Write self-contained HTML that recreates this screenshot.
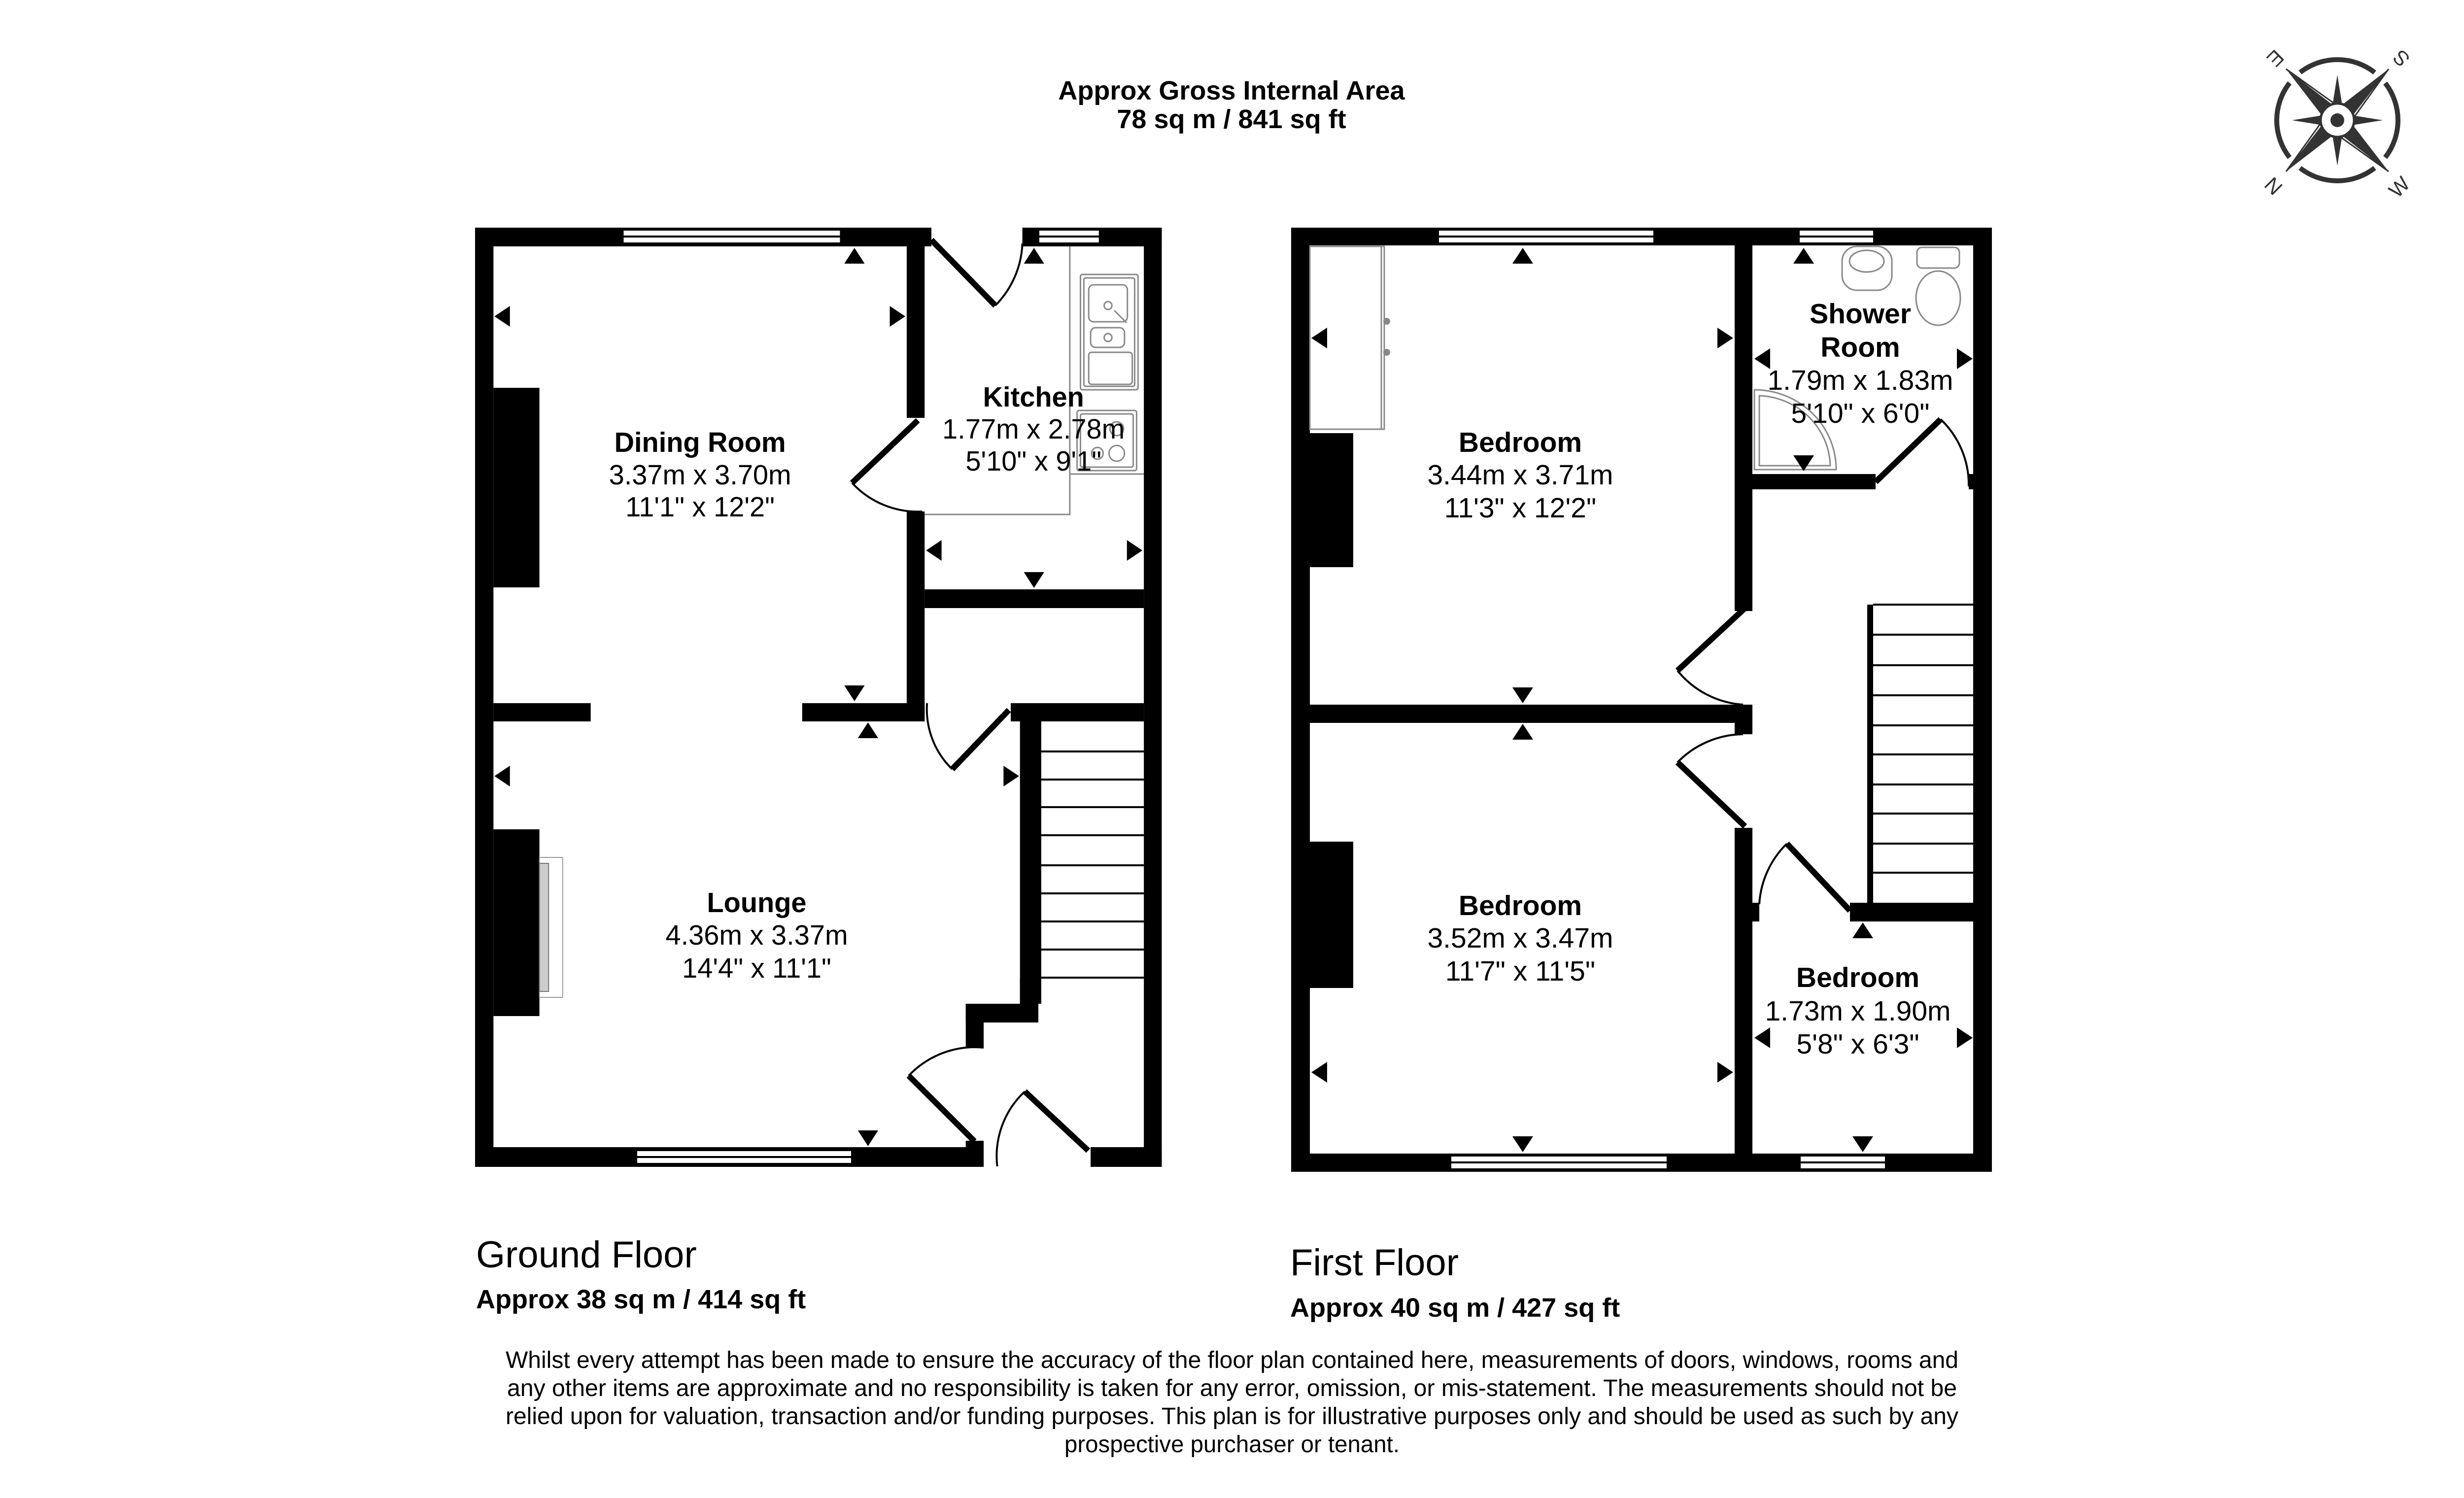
<!DOCTYPE html>
<html><head><meta charset="utf-8"><style>html,body{margin:0;padding:0;background:#fff}svg{display:block}</style></head>
<body>
<svg xmlns="http://www.w3.org/2000/svg" width="5005" height="3040" viewBox="0 0 5005 3040" font-family="Liberation Sans, Arial, sans-serif">
<rect width="5005" height="3040" fill="#fff"/>
<g text-anchor="middle" font-weight="bold" font-size="54" fill="#000">
<text x="2499" y="202">Approx Gross Internal Area</text>
<text x="2499" y="260">78 sq m / 841 sq ft</text>
</g>

<!-- ===== GROUND FLOOR ===== -->
<g transform="translate(964,0) scale(0.982,1) translate(-964,0)">
<g fill="#000">
<rect x="964" y="462" width="38" height="1906"/>
<rect x="964" y="462" width="943" height="38"/>
<rect x="2095" y="462" width="288" height="38"/>
<rect x="2346" y="462" width="37" height="1906"/>
<rect x="1856" y="462" width="37" height="386"/>
<rect x="1856" y="1038" width="37" height="426"/>
<rect x="1893" y="1196" width="453" height="38"/>
<rect x="1002" y="1427" width="201" height="37"/>
<rect x="1640" y="1427" width="253" height="37"/>
<rect x="2071" y="1427" width="275" height="37"/>
<rect x="2090" y="1464" width="44" height="573"/>
<rect x="2090" y="1986" width="38" height="51"/>
<rect x="1978" y="2037" width="150" height="38"/>
<rect x="1978" y="2037" width="37" height="89"/>
<rect x="964" y="2328" width="1051" height="40"/>
<rect x="1978" y="2315" width="37" height="13"/>
<rect x="2236" y="2328" width="147" height="40"/>
<rect x="1002" y="787" width="95" height="405"/>
<rect x="1002" y="1683" width="95" height="379"/>
</g>
<rect x="1097" y="1740" width="48" height="284" fill="#fff" stroke="#999" stroke-width="2"/>
<rect x="1097" y="1752" width="19" height="260" fill="#ccc" stroke="#777" stroke-width="2"/>
<g fill="#fff" stroke="#000" stroke-width="4">
<rect x="1269" y="466" width="451" height="28"/><line x1="1269" y1="480" x2="1720" y2="480"/>
<rect x="2128" y="466" width="127" height="28"/><line x1="2128" y1="480" x2="2255" y2="480"/>
<rect x="1297" y="2334" width="446" height="28"/><line x1="1297" y1="2348" x2="1743" y2="2348"/>
</g>
<g stroke="#000" stroke-width="4" fill="none">
<line x1="2134" y1="1525" x2="2346" y2="1525"/><line x1="2134" y1="1582" x2="2346" y2="1582"/>
<line x1="2134" y1="1638" x2="2346" y2="1638"/><line x1="2134" y1="1695" x2="2346" y2="1695"/>
<line x1="2134" y1="1756" x2="2346" y2="1756"/><line x1="2134" y1="1813" x2="2346" y2="1813"/>
<line x1="2134" y1="1870" x2="2346" y2="1870"/><line x1="2134" y1="1927" x2="2346" y2="1927"/>
<line x1="2134" y1="1984" x2="2346" y2="1984"/>
</g>
<g stroke="#888" stroke-width="3" fill="none">
<polyline points="2193,500 2193,1044 1893,1044"/>
<line x1="2193" y1="962" x2="2346" y2="962"/>
<rect x="2215" y="557" width="119" height="234" rx="4"/>
<rect x="2222" y="564" width="105" height="220" rx="4"/>
<rect x="2232" y="578" width="80" height="75" rx="10"/>
<rect x="2236" y="665" width="70" height="40" rx="10"/>
<circle cx="2272" cy="620" r="8"/><circle cx="2272" cy="685" r="8"/>
<line x1="2285" y1="630" x2="2310" y2="655"/>
<rect x="2232" y="715" width="90" height="65" rx="6"/>
<rect x="2208" y="833" width="123" height="122" rx="4"/>
<rect x="2215" y="840" width="109" height="108" rx="4"/>
<circle cx="2290" cy="870" r="14"/><circle cx="2290" cy="920" r="16"/><circle cx="2250" cy="920" r="12"/>
</g>
<g stroke="#000" fill="none">
<g stroke-width="12">
<line x1="1907" y1="487" x2="2039" y2="620"/>
<line x1="1879" y1="853" x2="1743" y2="980"/>
<line x1="2067" y1="1441" x2="1950" y2="1561"/>
<line x1="1996" y1="2316" x2="1860" y2="2183"/>
<line x1="2231" y1="2335" x2="2100" y2="2215"/>
</g>
<g stroke-width="4">
<path d="M2039,620 A187,187 0 0 0 2095,494"/>
<path d="M1743,980 A186,186 0 0 0 1888,1038"/>
<path d="M1950,1561 A168,168 0 0 1 1898,1427"/>
<path d="M1860,2183 A190,190 0 0 1 2015,2126"/>
<path d="M2100,2215 A178,178 0 0 0 2043,2367"/>
</g>
</g>
<g fill="#000">
<path d="M1748,503 l-21,32 h42z"/><path d="M1004,642 l32,-21 v42z"/><path d="M1853,642 l-32,-21 v42z"/><path d="M1748,1423 l-21,-32 h42z"/>
<path d="M1776,1466 l-21,32 h42z"/><path d="M1004,1575 l32,-21 v42z"/><path d="M2088,1575 l-32,-21 v42z"/><path d="M1776,2326 l-21,-32 h42z"/>
<path d="M2119,503 l-21,32 h42z"/><path d="M1896,1117 l32,-21 v42z"/><path d="M2343,1117 l-32,-21 v42z"/><path d="M2119,1193 l-21,-32 h42z"/>
</g>
<g text-anchor="middle" font-size="57" fill="#000">
<text x="1429" y="917" font-weight="bold">Dining Room</text>
<text x="1429" y="983">3.37m x 3.70m</text>
<text x="1429" y="1048">11'1" x 12'2"</text>
<text x="1546" y="1851" font-weight="bold">Lounge</text>
<text x="1546" y="1917">4.36m x 3.37m</text>
<text x="1546" y="1984">14'4" x 11'1"</text>
<text x="2118" y="825" font-weight="bold">Kitchen</text>
<text x="2118" y="890">1.77m x 2.78m</text>
<text x="2118" y="955">5'10" x 9'1"</text>
</g>
</g>

<!-- ===== FIRST FLOOR ===== -->
<g fill="#000">
<rect x="2620" y="462" width="38" height="1916"/>
<rect x="2620" y="462" width="1422" height="36"/>
<rect x="4004" y="462" width="38" height="1916"/>
<rect x="2620" y="2341" width="1422" height="37"/>
<rect x="3520" y="462" width="36" height="778"/>
<rect x="3520" y="1430" width="36" height="60"/>
<rect x="3520" y="1680" width="36" height="698"/>
<rect x="2658" y="1430" width="898" height="37"/>
<rect x="3556" y="962" width="250" height="31"/>
<rect x="3995" y="962" width="12" height="31"/>
<rect x="3789" y="1227" width="12" height="608"/>
<rect x="3754" y="1832" width="252" height="38"/>
<rect x="3556" y="1832" width="14" height="38"/>
<rect x="2658" y="879" width="88" height="272"/>
<rect x="2658" y="1708" width="88" height="297"/>
</g>
<g fill="#fff" stroke="#000" stroke-width="4">
<rect x="2918" y="466" width="439" height="28"/><line x1="2918" y1="480" x2="3357" y2="480"/>
<rect x="3650" y="466" width="153" height="28"/><line x1="3650" y1="480" x2="3803" y2="480"/>
<rect x="2943" y="2345" width="441" height="28"/><line x1="2943" y1="2359" x2="3384" y2="2359"/>
<rect x="3652" y="2345" width="175" height="28"/><line x1="3652" y1="2359" x2="3827" y2="2359"/>
</g>
<g stroke="#000" stroke-width="4">
<line x1="3801" y1="1227" x2="4004" y2="1227"/><line x1="3801" y1="1288" x2="4004" y2="1288"/>
<line x1="3801" y1="1350" x2="4004" y2="1350"/><line x1="3801" y1="1411" x2="4004" y2="1411"/>
<line x1="3801" y1="1472" x2="4004" y2="1472"/><line x1="3801" y1="1531" x2="4004" y2="1531"/>
<line x1="3801" y1="1592" x2="4004" y2="1592"/><line x1="3801" y1="1651" x2="4004" y2="1651"/>
<line x1="3801" y1="1712" x2="4004" y2="1712"/><line x1="3801" y1="1771" x2="4004" y2="1771"/>
</g>
<g stroke="#888" stroke-width="3" fill="none">
<rect x="2658" y="500" width="151" height="371"/>
<line x1="2803" y1="500" x2="2803" y2="871"/>
<rect x="3738" y="500" width="101" height="89" rx="30"/>
<ellipse cx="3788" cy="530" rx="35" ry="22"/>
<rect x="3890" y="502" width="86" height="42" rx="10"/>
<ellipse cx="3933" cy="605" rx="45" ry="55"/>
<path d="M3560,791 A166,162 0 0 1 3726,953 L3560,953 Z"/>
<path d="M3570,803 A150,146 0 0 1 3714,945 L3570,945 Z"/>
</g>
<g fill="#888"><circle cx="2814" cy="652" r="7"/><circle cx="2814" cy="715" r="7"/></g>
<g stroke="#000" fill="none">
<g stroke-width="12">
<line x1="3806" y1="978" x2="3938" y2="851"/>
<line x1="3541" y1="1234" x2="3404" y2="1361"/>
<line x1="3541" y1="1677" x2="3404" y2="1547"/>
<line x1="3754" y1="1848" x2="3626" y2="1712"/>
</g>
<g stroke-width="4">
<path d="M3938,851 A183,183 0 0 1 3995,987"/>
<path d="M3404,1361 A187,187 0 0 0 3537,1430"/>
<path d="M3404,1547 A189,189 0 0 1 3537,1490"/>
<path d="M3626,1712 A187,187 0 0 0 3570,1835"/>
</g>
</g>
<g fill="#000">
<path d="M3090,503 l-21,32 h42z"/><path d="M2661,686 l32,-21 v42z"/><path d="M3517,686 l-32,-21 v42z"/><path d="M3090,1427 l-21,-32 h42z"/>
<path d="M3090,1469 l-21,32 h42z"/><path d="M2661,2176 l32,-21 v42z"/><path d="M3517,2176 l-32,-21 v42z"/><path d="M3090,2338 l-21,-32 h42z"/>
<path d="M3660,503 l-21,32 h42z"/><path d="M3560,728 l32,-21 v42z"/><path d="M4003,728 l-32,-21 v42z"/><path d="M3660,956 l-21,-32 h42z"/>
<path d="M3780,1872 l-21,32 h42z"/><path d="M3560,2106 l32,-21 v42z"/><path d="M4003,2106 l-32,-21 v42z"/><path d="M3780,2338 l-21,-32 h42z"/>
</g>
<g text-anchor="middle" font-size="57" fill="#000">
<text x="3085" y="917" font-weight="bold">Bedroom</text>
<text x="3085" y="983">3.44m x 3.71m</text>
<text x="3085" y="1050">11'3" x 12'2"</text>
<text x="3085" y="1857" font-weight="bold">Bedroom</text>
<text x="3085" y="1923">3.52m x 3.47m</text>
<text x="3085" y="1990">11'7" x 11'5"</text>
<text x="3775" y="656" font-weight="bold">Shower</text>
<text x="3775" y="724" font-weight="bold">Room</text>
<text x="3775" y="791">1.79m x 1.83m</text>
<text x="3775" y="858">5'10" x 6'0"</text>
<text x="3770" y="2003" font-weight="bold">Bedroom</text>
<text x="3770" y="2071">1.73m x 1.90m</text>
<text x="3770" y="2138">5'8" x 6'3"</text>
</g>

<g fill="#000">
<text x="966" y="2572" font-size="76">Ground Floor</text>
<text x="966" y="2655" font-size="54" font-weight="bold">Approx 38 sq m / 414 sq ft</text>
<text x="2618" y="2588" font-size="76">First Floor</text>
<text x="2618" y="2672" font-size="54" font-weight="bold">Approx 40 sq m / 427 sq ft</text>
</g>
<g fill="#000" font-size="48" text-anchor="middle">
<text x="2500" y="2776" textLength="2948" lengthAdjust="spacingAndGlyphs">Whilst every attempt has been made to ensure the accuracy of the floor plan contained here, measurements of doors, windows, rooms and</text>
<text x="2500" y="2833" textLength="2942" lengthAdjust="spacingAndGlyphs">any other items are approximate and no responsibility is taken for any error, omission, or mis-statement. The measurements should not be</text>
<text x="2500" y="2890" textLength="2948" lengthAdjust="spacingAndGlyphs">relied upon for valuation, transaction and/or funding purposes. This plan is for illustrative purposes only and should be used as such by any</text>
<text x="2500" y="2947" textLength="680" lengthAdjust="spacingAndGlyphs">prospective purchaser or tenant.</text>
</g>

<g transform="translate(4743,244)" fill="#333" stroke="none">
<circle r="123" fill="none" stroke="#333" stroke-width="10" stroke-dasharray="163 30.25" stroke-dashoffset="-111.6"/>
<path d="M0,-92 L10,-30 L-10,-30Z M0,92 L10,30 L-10,30Z M-92,0 L-30,10 L-30,-10Z M92,0 L30,10 L30,-10Z"/>
<path d="M-104,-104 L-8,-30 L-30,-8Z M104,-104 L30,-8 L8,-30Z M-104,104 L-30,8 L-8,30Z M104,104 L8,30 L30,8Z"/>
<path d="M-104,-104 L30,-8 L20,-2Z M104,-104 L8,30 L2,20Z M-104,104 L-8,-30 L-2,-20Z M104,104 L-30,8 L-20,2Z" fill="none" stroke="#333" stroke-width="3"/>
<circle r="34" fill="#fff" stroke="#333" stroke-width="5"/>
<circle r="14"/>
<g font-size="42" text-anchor="middle" fill="#333">
<text x="-126" y="-112" transform="rotate(135,-126,-126)">E</text>
<text x="130" y="-112" transform="rotate(-135,130,-126)">S</text>
<text x="-130" y="148" transform="rotate(45,-130,134)">N</text>
<text x="126" y="150" transform="rotate(-45,126,136)">W</text>
</g>
</g>
</svg>
</body></html>
